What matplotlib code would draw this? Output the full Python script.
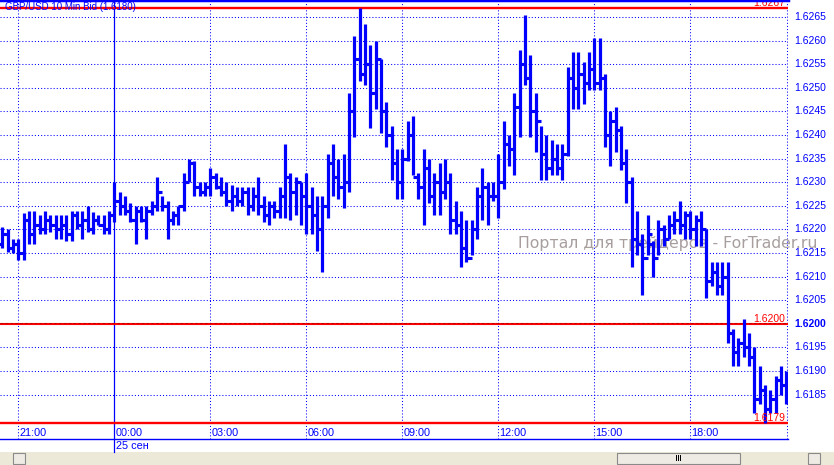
import matplotlib
matplotlib.use("Agg")
import matplotlib.pyplot as plt
from matplotlib.patches import Rectangle
import numpy as np

plt.rcParams['font.family'] = ['Liberation Sans', 'DejaVu Sans']

# ---- data (10-minute bars, 20:30 .. 20:40 next day) ----
highs = [1.62205, 1.6220, 1.6218, 1.6218, 1.62235, 1.6224, 1.6224, 1.6223, 1.6224, 1.6223,
         1.6223, 1.6223, 1.6223, 1.6224, 1.6224, 1.6224, 1.6225, 1.62237, 1.6223, 1.6223,
         1.6224, 1.6230, 1.6228, 1.6227, 1.62255, 1.6225, 1.6225, 1.6225, 1.6226, 1.6231,
         1.6227, 1.6226, 1.6224, 1.6225, 1.6232, 1.6235, 1.62345, 1.6230, 1.6230, 1.6233,
         1.6232, 1.6231, 1.6230, 1.62295, 1.6229, 1.6229, 1.6229, 1.6229, 1.6231, 1.6227,
         1.6226, 1.6226, 1.6229, 1.6238, 1.6232, 1.6231, 1.6230, 1.6232, 1.6229, 1.6227,
         1.6227, 1.6236, 1.6238, 1.6235, 1.6236, 1.6249, 1.6261, 1.6267, 1.62635, 1.6259,
         1.6260, 1.6256, 1.6247, 1.6242, 1.6237, 1.6237, 1.6243, 1.6244, 1.6232, 1.6237,
         1.6235, 1.6232, 1.6234, 1.6235, 1.6232, 1.6226, 1.6224, 1.6222, 1.6222, 1.6229,
         1.6233, 1.6230, 1.6230, 1.6236, 1.6243, 1.6240, 1.6249, 1.6258, 1.62655, 1.6257,
         1.6249, 1.6242, 1.6240, 1.6239, 1.6238, 1.6238, 1.62545, 1.62575, 1.62575, 1.62555,
         1.62575, 1.62605, 1.62605, 1.6253, 1.6245, 1.6246, 1.6242, 1.6237, 1.6231, 1.6224,
         1.6219, 1.6223, 1.62175, 1.6222, 1.6221, 1.6223, 1.6224, 1.6226, 1.6224, 1.6224,
         1.6223, 1.6224, 1.6220, 1.6213, 1.6213, 1.6213, 1.6213, 1.6199, 1.6197, 1.6201,
         1.6198, 1.6195, 1.6191, 1.6187, 1.6186, 1.6189, 1.6191, 1.6190]
lows = [1.6216, 1.62152, 1.6215, 1.62135, 1.62135, 1.6217, 1.6217, 1.6219, 1.6219, 1.62195,
        1.6218, 1.6218, 1.62175, 1.62175, 1.6220, 1.6218, 1.62195, 1.6219, 1.6221, 1.6219,
        1.6219, 1.62215, 1.6223, 1.6223, 1.62215, 1.6217, 1.62215, 1.6218, 1.6223, 1.6224,
        1.6224, 1.6218, 1.6221, 1.6221, 1.6224, 1.6230, 1.6227, 1.6227, 1.6227, 1.6227,
        1.62285, 1.6227, 1.6225, 1.6224, 1.6225, 1.6225, 1.6223, 1.6224, 1.6223, 1.62215,
        1.6221, 1.62225, 1.62225, 1.62225, 1.6222, 1.6223, 1.6221, 1.6219, 1.6219, 1.62155,
        1.6211, 1.62225, 1.6227, 1.62265, 1.62245, 1.6228, 1.62395, 1.62515, 1.62505, 1.62415,
        1.62455, 1.62405, 1.62375, 1.62305, 1.62265, 1.62265, 1.62345, 1.62315, 1.62265, 1.6221,
        1.62255, 1.6223, 1.6223, 1.62265, 1.6219, 1.6219, 1.6212, 1.6213, 1.62145, 1.6218,
        1.6222, 1.6221, 1.6226, 1.62225, 1.62285, 1.62335, 1.62315, 1.62395, 1.62505, 1.62395,
        1.62365, 1.62305, 1.62305, 1.62315, 1.62315, 1.62305, 1.62355, 1.62455, 1.62455, 1.62465,
        1.62495, 1.62495, 1.62495, 1.62375, 1.62335, 1.62365, 1.62325, 1.62255, 1.6212, 1.62145,
        1.6206, 1.62145, 1.6210, 1.62145, 1.62165, 1.6218, 1.6219, 1.6219, 1.6218, 1.6218,
        1.62165, 1.62165, 1.62055, 1.6208, 1.6206, 1.6206, 1.6196, 1.6191, 1.6191, 1.6193,
        1.6191, 1.6181, 1.6183, 1.6179, 1.6181, 1.6181, 1.6185, 1.6183]
opens = [1.6217, 1.6219, 1.6216, 1.6217, 1.6215, 1.6222, 1.6219, 1.6221, 1.6220, 1.6222,
         1.6221, 1.6220, 1.6221, 1.6219, 1.6223, 1.6221, 1.6222, 1.6220, 1.6222, 1.6221,
         1.6220, 1.6223, 1.6226, 1.6225, 1.6224, 1.6222, 1.6224, 1.6222, 1.6224, 1.6225,
         1.6228, 1.6225, 1.6222, 1.6223, 1.6225, 1.6230, 1.6234, 1.6229, 1.6228, 1.6229,
         1.6231, 1.6229, 1.6228, 1.6226, 1.6227, 1.6226, 1.6228, 1.6225, 1.6227, 1.6225,
         1.6223, 1.6225, 1.6224, 1.6227, 1.6231, 1.6228, 1.6230, 1.6227, 1.6225, 1.6223,
         1.6220, 1.6225, 1.6234, 1.6231, 1.6229, 1.6230, 1.6245, 1.6256, 1.6253, 1.6255,
         1.6249, 1.6256, 1.6245, 1.6240, 1.6234, 1.6230, 1.6235, 1.6240, 1.6231, 1.6229,
         1.6233, 1.6227, 1.6230, 1.6228, 1.6230, 1.6222, 1.6221, 1.6216, 1.6214, 1.6220,
         1.6227, 1.6229, 1.6227, 1.6227, 1.6230, 1.6238, 1.6237, 1.6246, 1.6255, 1.6252,
         1.6245, 1.6243, 1.6236, 1.6233, 1.6235, 1.6233, 1.6236, 1.6252, 1.6250, 1.6253,
         1.6251, 1.6254, 1.6251, 1.6252, 1.6240, 1.6243, 1.6241, 1.6234, 1.6230, 1.6218,
         1.6217, 1.6214, 1.6217, 1.6214, 1.6220, 1.6218, 1.6221, 1.6222, 1.6221, 1.6223,
         1.6220, 1.6222, 1.6220, 1.6209, 1.6211, 1.6208, 1.6210, 1.6198, 1.6194, 1.6196,
         1.6195, 1.6193, 1.6184, 1.6186, 1.6182, 1.6184, 1.6188, 1.6187]
closes = [1.6219, 1.6216, 1.6217, 1.6215, 1.6222, 1.6219, 1.6221, 1.6220, 1.6222, 1.6221,
          1.6220, 1.6221, 1.6219, 1.6223, 1.6221, 1.6222, 1.6220, 1.6222, 1.6221, 1.6220,
          1.6223, 1.6226, 1.6225, 1.6224, 1.6222, 1.6224, 1.6222, 1.6224, 1.6225, 1.6228,
          1.6225, 1.6222, 1.6223, 1.6225, 1.6230, 1.6234, 1.6229, 1.6228, 1.6229, 1.6231,
          1.6229, 1.6228, 1.6226, 1.6227, 1.6226, 1.6228, 1.6225, 1.6227, 1.6225, 1.6223,
          1.6225, 1.6224, 1.6227, 1.6231, 1.6228, 1.6230, 1.6227, 1.6225, 1.6223, 1.6220,
          1.6225, 1.6234, 1.6231, 1.6229, 1.6230, 1.6245, 1.6256, 1.6253, 1.6255, 1.6249,
          1.6256, 1.6245, 1.6240, 1.6234, 1.6230, 1.6235, 1.6240, 1.6231, 1.6229, 1.6233,
          1.6227, 1.6230, 1.6228, 1.6230, 1.6222, 1.6221, 1.6216, 1.6214, 1.6220, 1.6227,
          1.6229, 1.6227, 1.6227, 1.6230, 1.6238, 1.6237, 1.6246, 1.6255, 1.6252, 1.6245,
          1.6243, 1.6236, 1.6233, 1.6235, 1.6233, 1.6236, 1.6252, 1.6250, 1.6253, 1.6251,
          1.6254, 1.6251, 1.6252, 1.6240, 1.6243, 1.6241, 1.6234, 1.6230, 1.6218, 1.6217,
          1.6214, 1.6219, 1.6214, 1.6220, 1.6218, 1.6221, 1.6222, 1.6221, 1.6223, 1.6220,
          1.6222, 1.6220, 1.6209, 1.6211, 1.6208, 1.6210, 1.6198, 1.6194, 1.6196, 1.6195,
          1.6193, 1.6184, 1.6186, 1.6182, 1.6184, 1.6188, 1.6187, 1.6185]

time_labels = ["21:00", "00:00", "03:00", "06:00", "09:00", "12:00", "15:00", "18:00"]
time_label_bars = [3, 21, 39, 57, 75, 93, 111, 129]
date_label = "25 сен"
price_ticks = [1.6185, 1.6190, 1.6195, 1.6200, 1.6205, 1.6210, 1.6215, 1.6220, 1.6225,
               1.6230, 1.6235, 1.6240, 1.6245, 1.6250, 1.6255, 1.6260, 1.6265]
level_high = 1.6267
level_mid = 1.6200
level_low = 1.6179
title = "GBP/USD 10 Min Bid (1.6180)"
watermark = "Портал для трейдеров - ForTrader.ru"

BLUE = "#0000FF"
RED = "#FF0000"
W, H = 834, 465

fig = plt.figure(figsize=(W / 100, H / 100), dpi=100)
fig.patch.set_facecolor("white")
ax_right_px = 787.7
ax_bottom_px = 439
ax = fig.add_axes([0, (H - ax_bottom_px) / H, ax_right_px / W, ax_bottom_px / H])
ax.set_facecolor("white")
for s in ax.spines.values():
    s.set_visible(False)
ax.set_xticks([])
ax.set_yticks([])

n = len(highs)
idx = np.arange(n)
ax.set_xlim(-0.42, 147.28)
ax.set_ylim(1.617559, 1.626860)

# grid
for p in price_ticks:
    ax.axhline(p, color=BLUE, lw=0.75, ls=(0, (1, 2)), zorder=1)
for b in time_label_bars:
    if b == 21:
        ax.plot([b, b], [1.0, -0.03], color=BLUE, lw=0.9, transform=ax.get_xaxis_transform(),
                clip_on=False, zorder=2)
    else:
        ax.axvline(b, color=BLUE, lw=0.75, ls=(0, (1, 2)), zorder=1)
# right axis dotted line
ax.axvline(147.2, color=BLUE, lw=0.75, ls=(0, (1, 2)), zorder=1)

# watermark
ax.text(518 / ax_right_px, 1 - 243 / ax_bottom_px, watermark, transform=ax.transAxes,
        fontsize=11.3, color="#A89E9E", ha="left", va="center", clip_on=False, zorder=1.5,
        family=["DejaVu Sans"])

# level lines
ax.axhline(level_high, color=RED, lw=1.7, zorder=3)
ax.axhline(level_low, color=RED, lw=1.7, zorder=3)
ax.axhline(level_mid, color=RED, lw=1.5, zorder=3)
ax.axhline(level_mid + 0.000012, color="#C00000", lw=0.7, ls=(0, (3, 2)), zorder=3)

# OHLC bars
ax.vlines(idx, lows, highs, colors=BLUE, lw=2.3, zorder=4, capstyle="butt")
ax.hlines(opens, idx - 0.75, idx, colors=BLUE, lw=2.2, zorder=4, capstyle="butt")
ax.hlines(closes, idx, idx + 0.75, colors=BLUE, lw=2.2, zorder=4, capstyle="butt")

# level labels
for lv in (level_high, level_mid, level_low):
    ax.text(785 / ax_right_px, lv, f"{lv:.4f}", transform=ax.get_yaxis_transform(),
            color=RED, fontsize=7.5, ha="right", va="bottom", zorder=5)

# top frame line
ax.plot([0, 1], [1, 1], transform=ax.transAxes, color=BLUE, lw=2.5, clip_on=False, zorder=6)
# bottom line under time labels
ax.plot([0, 1], [0, 0], transform=ax.transAxes, color=BLUE, lw=1.0, clip_on=False, zorder=6)

# title
ax.text(5 / ax_right_px, 1 - 7.5 / ax_bottom_px, title, transform=ax.transAxes,
        color=BLUE, fontsize=7, ha="left", va="center", zorder=7)

# price axis labels
for p in price_ticks:
    ax.text(794 / ax_right_px, p, f"{p:.4f}", transform=ax.get_yaxis_transform(),
            color=BLUE, fontsize=7.5, ha="left", va="center", clip_on=False,
            fontweight="bold" if abs(p - level_mid) < 1e-9 else "normal")

# time labels
for b, lab in zip(time_label_bars, time_labels):
    ax.text(b + 0.25, (ax_bottom_px - 433) / ax_bottom_px, lab, transform=ax.get_xaxis_transform(),
            color=BLUE, fontsize=7.8, ha="left", va="center", zorder=7)
ax.text(21 + 0.35, -6.5 / ax_bottom_px, date_label, transform=ax.get_xaxis_transform(),
        color=BLUE, fontsize=7.8, ha="left", va="center", clip_on=False, zorder=7)

# scrollbar strip
fig.add_artist(Rectangle((0, 0), 1, 13 / H, transform=fig.transFigure,
                         facecolor="#ECE9D8", edgecolor="none", zorder=0))
fig.add_artist(Rectangle((617 / W, 1 / H), 123 / W, 11 / H, transform=fig.transFigure,
                         facecolor="#EDEBE3", edgecolor="#8A8A8A", lw=0.8, zorder=1))
for dx in (-2, 0, 2):
    fig.add_artist(Rectangle(((678 + dx) / W, 4 / H), 1.2 / W, 6 / H, transform=fig.transFigure,
                             facecolor="black", edgecolor="none", zorder=2))
fig.add_artist(Rectangle((13 / W, 1 / H), 12 / W, 11 / H, transform=fig.transFigure,
                         facecolor="#EDEBE3", edgecolor="#8A8A8A", lw=0.8, zorder=1))
fig.add_artist(Rectangle((808 / W, 1 / H), 12 / W, 11 / H, transform=fig.transFigure,
                         facecolor="#EDEBE3", edgecolor="#8A8A8A", lw=0.8, zorder=1))

fig.savefig("out.png", dpi=100, facecolor="white")
